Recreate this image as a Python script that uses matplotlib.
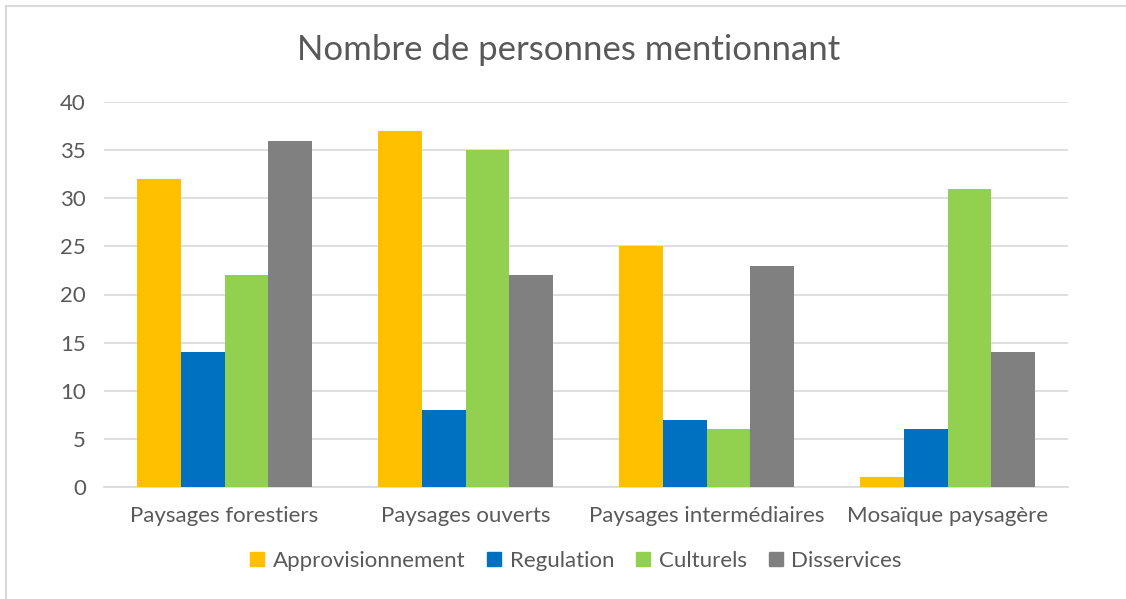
import matplotlib.pyplot as plt
import numpy as np
from matplotlib.lines import Line2D

categories = ["Paysages forestiers", "Paysages ouverts", "Paysages intermédiaires", "Mosaïque paysagère"]
series = ["Approvisionnement", "Regulation", "Culturels", "Disservices"]
approvisionnement = [32, 37, 25, 1]
regulation = [14, 8, 7, 6]
culturels = [22, 35, 6, 31]
disservices = [36, 22, 23, 14]
yticks = [0, 5, 10, 15, 20, 25, 30, 35, 40]

colors = ["#FFC000", "#0070C0", "#92D050", "#808080"]
text_color = "#595959"

plt.rcParams["font.family"] = ["Lato", "DejaVu Sans"]

W, H = 1126, 599
fig = plt.figure(figsize=(W / 100, H / 100), dpi=100)
ax = fig.add_axes([104 / W, 1 - 487 / H, (1068 - 104) / W, (487 - 102) / H])

x = np.arange(len(categories))
width = 0.1825
for i, (name, vals) in enumerate(zip(series, [approvisionnement, regulation, culturels, disservices])):
    ax.bar(x + (i - 1.5) * width, vals, width, color=colors[i], label=name, zorder=3)

ax.set_xlim(-0.5, len(categories) - 0.5)
ax.set_ylim(0, 40)
ax.set_yticks(yticks)
ax.set_xticks(x)
ax.set_xticklabels(categories)
ax.tick_params(axis="both", length=0, colors=text_color, labelsize=16)
ax.tick_params(axis="x", pad=14)
ax.tick_params(axis="y", pad=13)
ax.grid(axis="y", color="#D9D9D9", linewidth=1.2, zorder=0)
for side in ["top", "right", "left"]:
    ax.spines[side].set_visible(False)
ax.spines["bottom"].set_color("#D9D9D9")
ax.spines["bottom"].set_linewidth(1.2)

fig.text(569 / W, 1 - 50 / H, "Nombre de personnes mentionnant", ha="center", va="center",
         fontsize=25, color=text_color)

handles = [Line2D([], [], marker="s", linestyle="none", markersize=9.5, color=c) for c in colors]
fig.legend(handles, series, loc="center", bbox_to_anchor=(574 / W, 1 - 561 / H), ncol=4,
           frameon=False, fontsize=16, labelcolor=text_color, handletextpad=0.2,
           columnspacing=0.8, handlelength=1.0)

# chart border
fig.add_artist(Line2D([6 / W, 6 / W], [0, 1 - 6 / H], color="#D9D9D9", linewidth=1.5,
                      transform=fig.transFigure))
fig.add_artist(Line2D([6 / W, 1], [1 - 6 / H, 1 - 6 / H], color="#D9D9D9", linewidth=1.5,
                      transform=fig.transFigure))

fig.savefig("out.png", dpi=100)
